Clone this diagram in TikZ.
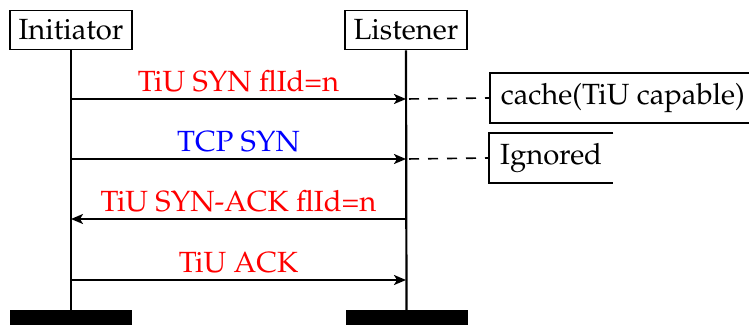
\documentclass[tikz,border=0pt]{standalone}
\usepackage[T1]{fontenc}
\usepackage{mathpazo}
\usetikzlibrary{arrows.meta}
\begin{document}
\begin{tikzpicture}[x=1pt,y=-1pt,
  font=\fontsize{29.2}{34}\selectfont,
  instance/.style={draw,line width=1.6pt,minimum width=122pt,minimum height=39pt,inner sep=0pt},
  lifeline/.style={line width=2.2pt},
  endbar/.style={fill=black,draw=none,minimum width=122pt,minimum height=15pt,inner sep=0pt},
  msg/.style={line width=2pt,-{Stealth[length=12pt,width=10pt,inset=3pt]}},
  msglabel/.style={anchor=base,inner sep=0pt},
  note/.style={line width=1.6pt,dash pattern=on 10pt off 9pt,dash phase=-3pt},
  notebox/.style={anchor=west,inner xsep=11pt,inner ysep=0pt,minimum height=50pt}]
  \useasboundingbox (0,0) rectangle (749,325);

  % participants
  \node[instance] (init) at (71,30) {Initiator};
  \node[instance] (list) at (406,30) {Listener};

  % end-of-life bars
  \node[endbar] (initend) at (71,317.5) {};
  \node[endbar] (listend) at (406.5,317.5) {};

  % lifelines
  \draw[lifeline] (init.south) -- (initend.north);
  \draw[lifeline] (list.south) -- (listend.north);

  % anchor points of the messages on both lifelines
  \coordinate (i1) at (71,99);   \coordinate (l1) at (406,99);
  \coordinate (i2) at (71,159);  \coordinate (l2) at (406,159);
  \coordinate (i3) at (71,219);  \coordinate (l3) at (406,219);
  \coordinate (i4) at (71,280);  \coordinate (l4) at (406,280);

  % messages
  \draw[msg] (i1) -- (l1);
  \node[msglabel,text=red] (m1) at (238.5,91) {TiU SYN flId=n};
  \draw[msg] (i2) -- (l2);
  \node[msglabel,text=blue] (m2) at (238.5,151) {TCP SYN};
  \draw[msg] (l3) -- (i3);
  \node[msglabel,text=red] (m3) at (238.5,211) {TiU SYN-ACK flId=n};
  \draw[msg] (i4) -- (l4);
  \node[msglabel,text=red] (m4) at (238.5,272) {TiU ACK};

  % notes on the listener side
  \node[notebox,draw,line width=1.6pt] (cache) at (489,98) {cache(TiU capable)};
  \draw[note] (l1) -- (cache.west);

  \node[notebox] (ign) at (489,158) {Ignored};
  \draw[line width=1.6pt] (ign.north east) -- (ign.north west)
    -- (ign.south west) -- (ign.south east);
  \draw[note] (l2) -- (ign.west);
\end{tikzpicture}
\end{document}
